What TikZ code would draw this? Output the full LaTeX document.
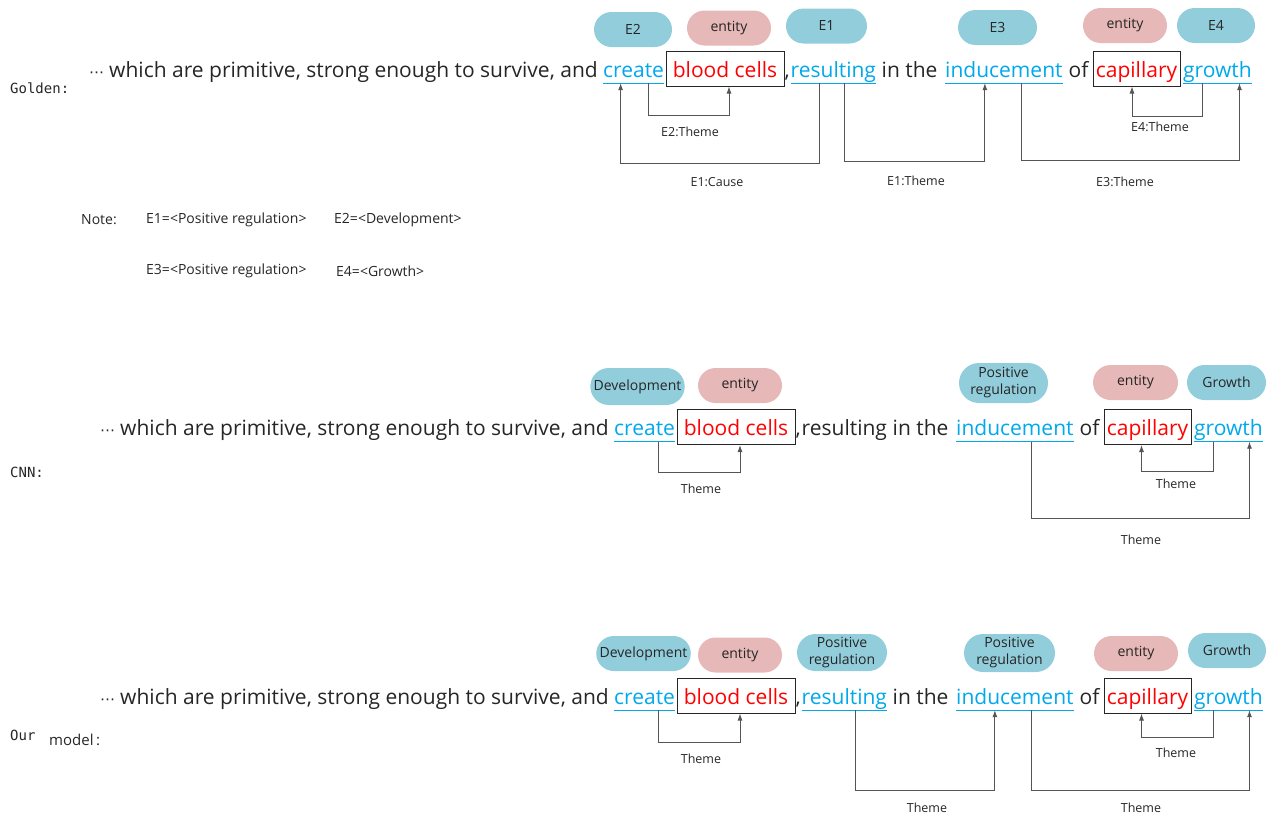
\documentclass[tikz,border=0pt]{standalone}
\usepackage{fontspec}
\setmainfont{Open Sans}
\newfontfamily\labmono{DejaVu Sans Mono}
\newfontfamily\symfont{DejaVu Sans}
\usetikzlibrary{shapes.misc,arrows.meta}

\definecolor{evblue}{RGB}{0,168,236}
\definecolor{pillblue}{RGB}{146,205,220}
\definecolor{pillpink}{RGB}{230,184,183}
\definecolor{ink}{RGB}{38,38,38}
\definecolor{wire}{RGB}{85,85,85}

\tikzset{
  txt/.style={inner sep=0pt, anchor=base west, text=ink,
    font=\fontsize{21}{25}\selectfont, text depth=6pt},
  trig/.style={txt, text=evblue},
  uline/.style={draw=evblue, line width=1pt},
  argbox/.style={draw=ink, line width=1pt, text=red, inner sep=0pt, anchor=base,
    text height=26pt, text depth=9pt, font=\fontsize{21}{25}\selectfont},
  pill/.style={rounded rectangle, fill=pillblue, text=ink, minimum height=35pt,
    inner sep=2pt, align=center, font=\fontsize{14}{16}\selectfont},
  entpill/.style={pill, fill=pillpink},
  arr/.style={draw=wire, line width=0.9pt, -{Latex[length=7pt,width=5pt]}},
  rel/.style={text=ink, inner sep=0pt, font=\fontsize{12.5}{14}\selectfont},
  note/.style={text=ink, inner sep=0pt, anchor=west, font=\fontsize{14}{16}\selectfont},
  rowlab/.style={text=ink, inner sep=0pt, anchor=west, font=\labmono\fontsize{14}{16}\selectfont}
}

% one sentence; #1 = name prefix, #2 = style of the word "resulting"
\newcommand\makesentence[2]{%
  \node[txt, anchor=base east] (#1pre) at (598,0)
    {{\symfont\fontsize{15}{15}\selectfont ⋯}\kern5pt which are primitive, strong enough to survive, and};
  \node[trig] (#1create) at (603,0) {create};
  \node[argbox, minimum width=118pt] (#1bc) at (725,0) {blood cells};
  \node[txt] (#1comma) at (784.5,0) {,};
  \node[#2] (#1res) at (790.5,0) {resulting};
  \node[txt] (#1inthe) at (881.5,0) {in the};
  \node[trig] (#1ind) at (945,0) {inducement};
  \node[txt] (#1of) at (1068.5,0) {of};
  \node[argbox, minimum width=87pt] (#1cap) at (1136.5,0) {capillary};
  \node[trig] (#1gro) at (1183,0) {growth};
}

\begin{document}
\begin{tikzpicture}[x=1pt, y=-1pt]
\useasboundingbox (0,0) rectangle (1271,814);

% ---------------- Golden ----------------
\node[rowlab] (labGolden) at (10,88) {Golden:};
\begin{scope}[shift={(0,77)}]
  \makesentence{a}{trig}
\end{scope}
\foreach \n in {create,res,ind,gro} \draw[uline] (a\n.south west) -- (a\n.south east);

\node[pill, minimum width=82pt] (aE2) at (633,29.5) {E2};
\node[entpill, minimum width=88pt] (aEntA) at (729,28) {entity};
\node[pill, minimum width=85pt] (aE1) at (826.5,26) {E1};
\node[pill, minimum width=83pt] (aE3) at (997.5,27.5) {E3};
\node[entpill, minimum width=88pt] (aEntB) at (1125,25.5) {entity};
\node[pill, minimum width=82pt] (aE4) at (1216,25.5) {E4};

\draw[arr] ([xshift=15]acreate.south) -- ++(0,32) -| ([xshift=4]abc.south);
\draw[arr] ([xshift=-14]ares.south) -- ++(0,80) -| ([xshift=-13]acreate.south);
\draw[arr] ([xshift=11]ares.south) -- ++(0,78) -| ([xshift=-19]aind.south);
\draw[arr] ([xshift=18]aind.south) -- ++(0,77) -| ([xshift=22]agro.south);
\draw[arr] ([xshift=-15]agro.south) -- ++(0,33) -| ([xshift=-4.5]acap.south);

\node[rel] (aL1) at (690,132) {E2:Theme};
\node[rel] (aL2) at (717,182) {E1:Cause};
\node[rel] (aL3) at (916,181) {E1:Theme};
\node[rel] (aL4) at (1125,182) {E3:Theme};
\node[rel] (aL5) at (1160,127) {E4:Theme};

% notes
\node[note] (nNote) at (81,220) {Note:};
\node[note] (nE1) at (146,220) {E1=<Positive regulation>};
\node[note] (nE2) at (334,220) {E2=<Development>};
\node[note] (nE3) at (146,271) {E3=<Positive regulation>};
\node[note] (nE4) at (336,271) {E4=<Growth>};

% ---------------- CNN ----------------
\node[rowlab] (labCNN) at (10,472) {CNN:};
\begin{scope}[shift={(11,435.5)}]
  \makesentence{b}{txt}
\end{scope}
\foreach \n in {create,ind,gro} \draw[uline] (b\n.south west) -- (b\n.south east);

\node[pill, minimum width=93pt, minimum height=37pt] (bDev) at (637.5,386.5) {Development};
\node[entpill, minimum width=88pt] (bEntA) at (740,385.5) {entity};
\node[pill, minimum width=93pt, minimum height=40pt, font=\fontsize{14}{17}\selectfont] (bPos) at (1003.5,383) {Positive\\regulation};
\node[entpill, minimum width=89pt] (bEntB) at (1135.5,382.5) {entity};
\node[pill, minimum width=83pt] (bGro) at (1226.5,382.5) {Growth};

\draw[arr] ([xshift=14]bcreate.south) -- ++(0,30.5) -| ([xshift=4]bbc.south);
\draw[arr] ([xshift=-15]bgro.south) -- ++(0,29.5) -| ([xshift=-6]bcap.south);
\draw[arr] ([xshift=17]bind.south) -- ++(0,76.5) -| ([xshift=21]bgro.south);

\node[rel] (bL1) at (701,489) {Theme};
\node[rel] (bL2) at (1176,484) {Theme};
\node[rel] (bL3) at (1141,540) {Theme};

% ---------------- Our model ----------------
\node[rowlab] (labOur) at (10,735) {Our};
\node[rowlab, font=\fontsize{15}{17}\selectfont] (labModel) at (49,740) {model\,:};
\begin{scope}[shift={(11,704)}]
  \makesentence{c}{trig}
\end{scope}
\foreach \n in {create,res,ind,gro} \draw[uline] (c\n.south west) -- (c\n.south east);

\node[pill, minimum width=93pt] (cDev) at (643.5,653.5) {Development};
\node[entpill, minimum width=88pt] (cEntA) at (740,655) {entity};
\node[pill, minimum width=94pt, minimum height=37pt, font=\fontsize{14}{17}\selectfont] (cPosA) at (842,652.5) {Positive\\regulation};
\node[pill, minimum width=95pt, minimum height=38pt, font=\fontsize{14}{17}\selectfont] (cPosB) at (1009.5,653) {Positive\\regulation};
\node[entpill, minimum width=88pt] (cEntB) at (1136,653.5) {entity};
\node[pill, minimum width=82pt] (cGro) at (1227,650.5) {Growth};

\draw[arr] ([xshift=14]ccreate.south) -- ++(0,32) -| ([xshift=4]cbc.south);
\draw[arr] ([xshift=-15]cgro.south) -- ++(0,27) -| ([xshift=-6]ccap.south);
\draw[arr] ([xshift=11]cres.south) -- ++(0,80) -| ([xshift=-20]cind.south);
\draw[arr] ([xshift=17]cind.south) -- ++(0,80) -| ([xshift=21]cgro.south);

\node[rel] (cL1) at (701,759) {Theme};
\node[rel] (cL2) at (1176,753) {Theme};
\node[rel] (cL3) at (927,808) {Theme};
\node[rel] (cL4) at (1141,808) {Theme};
\end{tikzpicture}
\end{document}
